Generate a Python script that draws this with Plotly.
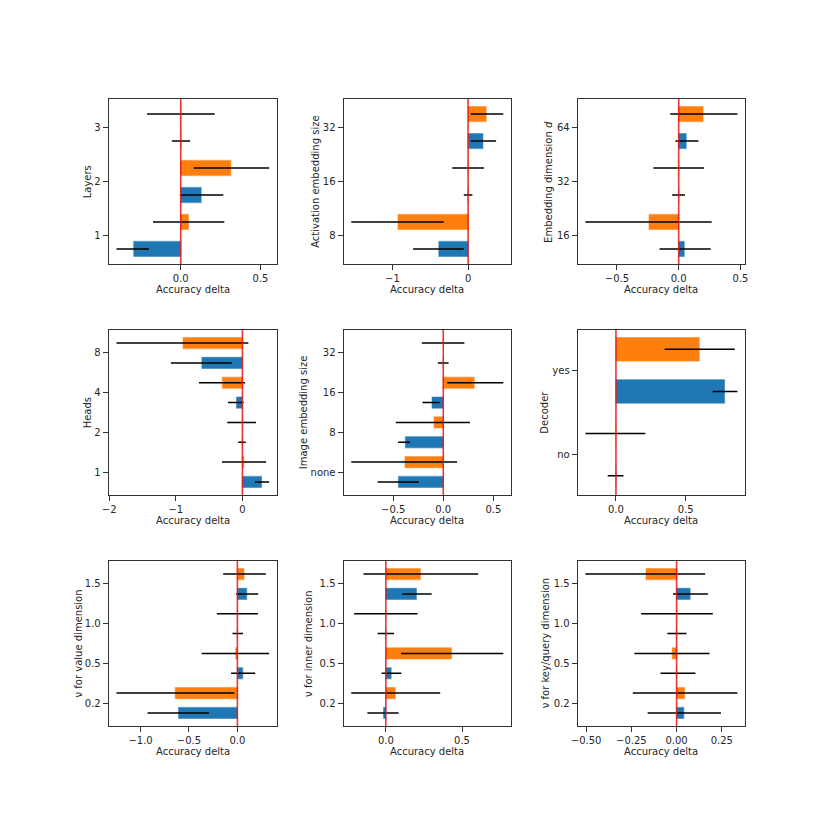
import plotly.graph_objects as go

BLUE = "#1f77b4"
ORANGE = "#ff7f0e"

# ---------------- data ----------------
layers_labels = ["1", "2", "3"]
layers_blue = [-0.295, 0.128, 0.0]
layers_blue_lo = [-0.403, -0.006, -0.056]
layers_blue_hi = [-0.200, 0.267, 0.058]
layers_orange = [0.048, 0.314, 0.0]
layers_orange_lo = [-0.174, 0.081, -0.211]
layers_orange_hi = [0.273, 0.554, 0.213]

act_labels = ["8", "16", "32"]
act_blue = [-0.387, 0.0, 0.196]
act_blue_lo = [-0.726, -0.057, 0.035]
act_blue_hi = [-0.057, 0.057, 0.370]
act_orange = [-0.926, 0.0, 0.239]
act_orange_lo = [-1.543, -0.209, 0.035]
act_orange_hi = [-0.322, 0.209, 0.465]

emb_labels = ["16", "32", "64"]
emb_blue = [0.045, 0.0, 0.061]
emb_blue_lo = [-0.155, -0.053, -0.027]
emb_blue_hi = [0.259, 0.051, 0.160]
emb_orange = [-0.240, 0.0, 0.197]
emb_orange_lo = [-0.755, -0.205, -0.069]
emb_orange_hi = [0.267, 0.205, 0.475]

heads_labels = ["1", "2", "4", "8"]
heads_blue = [0.287, 0.0, -0.089, -0.609]
heads_blue_lo = [0.188, -0.064, -0.218, -1.074]
heads_blue_hi = [0.401, 0.050, 0.020, -0.158]
heads_orange = [0.020, 0.0, -0.302, -0.891]
heads_orange_lo = [-0.307, -0.228, -0.653, -1.891]
heads_orange_hi = [0.356, 0.203, 0.040, 0.089]

img_labels = ["none", "8", "16", "32"]
img_blue = [-0.447, -0.378, -0.112, 0.0]
img_blue_lo = [-0.655, -0.451, -0.207, -0.053]
img_blue_hi = [-0.243, -0.332, -0.036, 0.053]
img_orange = [-0.382, -0.092, 0.309, 0.0]
img_orange_lo = [-0.918, -0.474, 0.039, -0.214]
img_orange_hi = [0.138, 0.266, 0.599, 0.211]

dec_labels = ["no", "yes"]
dec_blue = [0.0, 0.778]
dec_blue_lo = [-0.059, 0.693]
dec_blue_hi = [0.054, 0.870]
dec_orange = [0.0, 0.597]
dec_orange_lo = [-0.219, 0.349]
dec_orange_hi = [0.210, 0.851]

nu_labels = ["0.2", "0.5", "1.0", "1.5"]

val_blue = [-0.608, 0.055, 0.0, 0.096]
val_blue_lo = [-0.928, -0.065, -0.051, -0.014]
val_blue_hi = [-0.294, 0.184, 0.058, 0.215]
val_orange = [-0.642, -0.017, 0.0, 0.068]
val_orange_lo = [-1.249, -0.369, -0.212, -0.147]
val_orange_hi = [-0.031, 0.328, 0.212, 0.294]

inner_blue = [-0.015, 0.035, 0.0, 0.201]
inner_blue_lo = [-0.121, -0.028, -0.054, 0.108]
inner_blue_hi = [0.084, 0.102, 0.054, 0.301]
inner_orange = [0.061, 0.431, 0.0, 0.227]
inner_orange_lo = [-0.227, 0.100, -0.208, -0.147]
inner_orange_hi = [0.357, 0.771, 0.208, 0.606]

kq_blue = [0.040, 0.0, 0.0, 0.075]
kq_blue_lo = [-0.160, -0.089, -0.051, -0.020]
kq_blue_hi = [0.245, 0.104, 0.055, 0.173]
kq_orange = [0.044, -0.024, 0.0, -0.169]
kq_orange_lo = [-0.242, -0.233, -0.196, -0.504]
kq_orange_hi = [0.336, 0.182, 0.200, 0.158]

panels = [
    ("Layers", layers_labels, layers_blue, layers_blue_lo, layers_blue_hi,
     layers_orange, layers_orange_lo, layers_orange_hi, 0.5, ".1f"),
    ("Activation embedding size", act_labels, act_blue, act_blue_lo, act_blue_hi,
     act_orange, act_orange_lo, act_orange_hi, 1, "d"),
    ("Embedding dimension <i>d</i>", emb_labels, emb_blue, emb_blue_lo, emb_blue_hi,
     emb_orange, emb_orange_lo, emb_orange_hi, 0.5, ".1f"),
    ("Heads", heads_labels, heads_blue, heads_blue_lo, heads_blue_hi,
     heads_orange, heads_orange_lo, heads_orange_hi, 1, "d"),
    ("Image embedding size", img_labels, img_blue, img_blue_lo, img_blue_hi,
     img_orange, img_orange_lo, img_orange_hi, 0.5, ".1f"),
    ("Decoder", dec_labels, dec_blue, dec_blue_lo, dec_blue_hi,
     dec_orange, dec_orange_lo, dec_orange_hi, 0.5, ".1f"),
    ("ν for value dimension", nu_labels, val_blue, val_blue_lo, val_blue_hi,
     val_orange, val_orange_lo, val_orange_hi, 0.5, ".1f"),
    ("ν for inner dimension", nu_labels, inner_blue, inner_blue_lo, inner_blue_hi,
     inner_orange, inner_orange_lo, inner_orange_hi, 0.5, ".1f"),
    ("ν for key/query dimension", nu_labels, kq_blue, kq_blue_lo, kq_blue_hi,
     kq_orange, kq_orange_lo, kq_orange_hi, 0.25, ".2f"),
]

# ---------------- layout geometry (window pixels in 830x830) ----------------
PAGE_OFF = 8.0          # default body margin of the page
W = 822.0               # figure size so that figure + margin fills the window
col_px = [(103, 273), (340.7, 510), (577.7, 747)]
row_px = [(99, 264), (330, 495), (561, 726)]
ytitle_px = [81.7, 312.0, 548.0, 81.7, 300.3, 543.7, 72.7, 305.0, 545.3]
xtitle_off = 25.0

TEXT = "#262626"
AX = "#333333"
FONT = "DejaVu Sans"
BAR_H = 0.28
OFF = 0.25


def px_x(v):
    return (v - PAGE_OFF) / W


def px_y(v):
    return 1 - (v - PAGE_OFF) / W


fig = go.Figure()
annotations = []
shapes = []

for k, (ytitle, labels, bv, blo, bhi, ov, olo, ohi, dtick, fmt) in enumerate(panels):
    idx = k + 1
    r, c = divmod(k, 3)
    xa = "x" if idx == 1 else f"x{idx}"
    ya = "y" if idx == 1 else f"y{idx}"
    n = len(labels)
    pos = list(range(n))

    for vals, lo, hi, color, line_rgba, sign in [
        (bv, blo, bhi, BLUE, "rgba(31,119,180,0.45)", -1),
        (ov, olo, ohi, ORANGE, "rgba(255,127,14,0.45)", 1),
    ]:
        fig.add_trace(go.Bar(
            x=vals,
            y=[p + sign * OFF for p in pos],
            orientation="h",
            width=BAR_H,
            marker=dict(color=color, line=dict(color=line_rgba, width=1.2)),
            error_x=dict(
                type="data", symmetric=False,
                array=[h - v for h, v in zip(hi, vals)],
                arrayminus=[v - l for v, l in zip(vals, lo)],
                color="black", thickness=1.5, width=0,
            ),
            xaxis=xa, yaxis=ya, showlegend=False, hoverinfo="skip",
        ))

    lo_all = min(blo + olo + [0])
    hi_all = max(bhi + ohi + [0])
    span = hi_all - lo_all
    xr = [lo_all - 0.05 * span, hi_all + 0.05 * span]

    ylo = -OFF - BAR_H / 2
    yhi = (n - 1) + OFF + BAR_H / 2
    ys = yhi - ylo
    yr = [ylo - 0.05 * ys, yhi + 0.05 * ys]

    x0, x1 = col_px[c]
    yt, yb = row_px[r]
    xdom = [px_x(x0), px_x(x1)]
    ydom = [px_y(yb), px_y(yt)]

    axis_common = dict(
        showline=True, mirror=True, linecolor=AX, linewidth=1.3,
        ticks="outside", ticklen=5, tickwidth=1.3, tickcolor=AX,
        showgrid=False, zeroline=False,
        tickfont=dict(family=FONT, size=10, color=TEXT),
    )
    fig.update_layout(**{
        ("xaxis" if idx == 1 else f"xaxis{idx}"): dict(
            domain=xdom, anchor=ya, range=xr, dtick=dtick, tick0=0,
            tickformat=fmt, **axis_common),
        ("yaxis" if idx == 1 else f"yaxis{idx}"): dict(
            domain=ydom, anchor=xa, range=yr, tickvals=pos, ticktext=labels,
            **axis_common),
    })

    shapes.append(dict(
        type="line", xref=xa, yref=f"{ya} domain", x0=0, x1=0, y0=0, y1=1,
        line=dict(color="rgba(230,20,20,0.85)", width=1.6), layer="above",
    ))

    annotations.append(dict(
        text=ytitle, xref="paper", yref="paper",
        x=px_x(ytitle_px[k]), y=px_y((yt + yb) / 2),
        xanchor="center", yanchor="middle", textangle=-90, showarrow=False,
        font=dict(family=FONT, size=10, color=TEXT),
    ))
    annotations.append(dict(
        text="Accuracy delta", xref="paper", yref="paper",
        x=px_x((x0 + x1) / 2), y=px_y(yb + xtitle_off),
        xanchor="center", yanchor="middle", showarrow=False,
        font=dict(family=FONT, size=10, color=TEXT),
    ))

fig.update_layout(
    width=int(W), height=int(W),
    margin=dict(l=0, r=0, t=0, b=0),
    paper_bgcolor="white", plot_bgcolor="white",
    showlegend=False, barmode="overlay",
    annotations=annotations, shapes=shapes,
    font=dict(family=FONT, size=10, color=TEXT),
)

fig.write_html("out.html")
